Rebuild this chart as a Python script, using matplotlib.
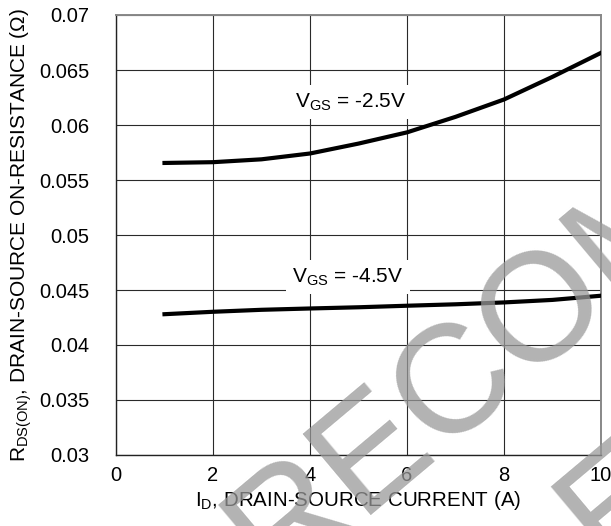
import numpy as np
import matplotlib.pyplot as plt

plt.rcParams['font.family'] = ['Liberation Sans', 'DejaVu Sans']
plt.rcParams['mathtext.fontset'] = 'custom'
plt.rcParams['mathtext.rm'] = 'Liberation Sans'

# drain current (A)
i_d = [1, 2, 3, 4, 5, 6, 7, 8, 9, 10]
# R_DS(on) (ohm) at V_GS = -2.5V and -4.5V
r_25 = [0.05655, 0.05662, 0.05688, 0.05741, 0.05831, 0.05933, 0.06074, 0.06232, 0.06438, 0.06656]
r_45 = [0.04280, 0.04302, 0.04320, 0.04332, 0.04343, 0.04357, 0.04370, 0.04387, 0.04410, 0.04448]

x_ticks = [0, 2, 4, 6, 8, 10]
y_ticks = [0.03, 0.035, 0.04, 0.045, 0.05, 0.055, 0.06, 0.065, 0.07]
y_labels = ['0.03', '0.035', '0.04', '0.045', '0.05', '0.055', '0.06', '0.065', '0.07']

fig = plt.figure(figsize=(6.11, 5.26), dpi=100)
ax = fig.add_axes([116/611, 1 - 455/526, 485/611, 440/526])

ax.set_xlim(0, 10)
ax.set_ylim(0.03, 0.07)
ax.set_xticks(x_ticks)
ax.set_yticks(y_ticks)
ax.set_yticklabels(y_labels)
ax.grid(True, color='#2a2a2a', linewidth=0.8)
ax.set_axisbelow(True)
ax.tick_params(length=0, labelsize=14.5)
ax.tick_params(axis='y', pad=19)
ax.tick_params(axis='x', pad=8)
for side in ['left', 'bottom']:
    ax.spines[side].set_color('#222222')
    ax.spines[side].set_linewidth(1.0)
for side in ['top', 'right']:
    ax.spines[side].set_color('#888888')
    ax.spines[side].set_linewidth(1.4)

ax.plot(i_d, r_25, color='black', linewidth=3, zorder=3)
ax.plot(i_d, r_45, color='black', linewidth=3, zorder=3)

box = dict(boxstyle='square,pad=0.3', facecolor='white', edgecolor='none')
ax.text(3.69, 0.06164, r'V$_{\mathregular{GS}}$ = -2.5V', fontsize=15,
        va='baseline', ha='left', bbox=box, zorder=2.5)
ax.text(3.63, 0.04573, r'V$_{\mathregular{GS}}$ = -4.5V', fontsize=15,
        va='baseline', ha='left', bbox=box, zorder=2.5)

ax.set_xlabel(r'I$_{\mathregular{D}}$, DRAIN-SOURCE CURRENT (A)', fontsize=14.8, labelpad=3)
ax.set_ylabel(r'R$_{\mathregular{DS(ON)}}$, DRAIN-SOURCE ON-RESISTANCE ($\Omega$)', fontsize=15, labelpad=4)

# watermark
fig.text(274/611, 1 - 586/526, 'RECOMMENDED', fontsize=111, color='#999999', alpha=0.75,
         rotation=40, rotation_mode='anchor', ha='left', va='baseline', zorder=10)
fig.text(606/611, 1 - 568/526, 'E', fontsize=111, color='#999999', alpha=0.75,
         rotation=40, rotation_mode='anchor', ha='left', va='baseline', zorder=10)

plt.savefig('out.png', dpi=100)
